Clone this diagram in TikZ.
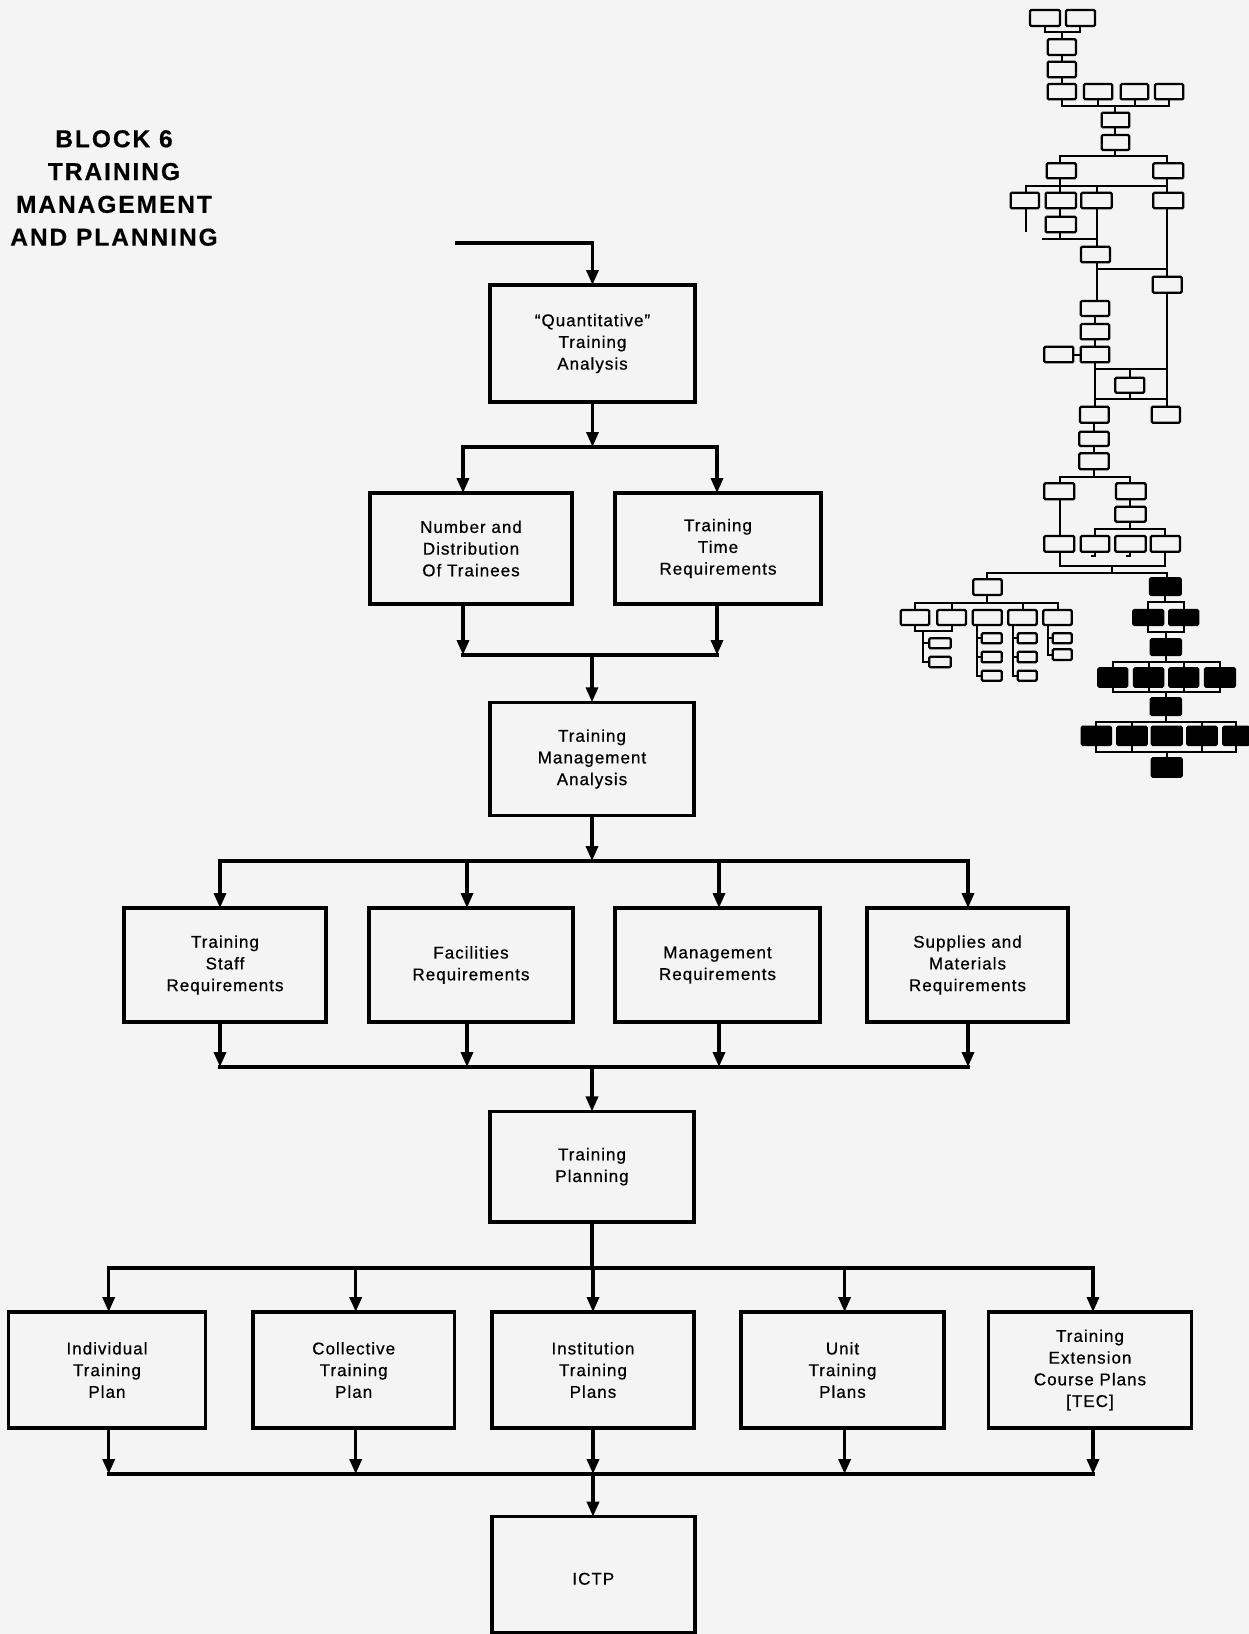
\documentclass[tikz,border=0pt]{standalone}
\usepackage{fontspec}
\setmainfont{Liberation Sans}
\newfontfamily\boxfont{Liberation Sans}[LetterSpace=6,FakeBold=0.6]
\newfontfamily\headfont{Liberation Sans}[LetterSpace=8,FakeBold=0.4]
\usetikzlibrary{arrows.meta}
\definecolor{paper}{gray}{0.955}
% small pictogram helpers: outlined and solid boxes, given by two corners
\newcommand{\obox}[4]{\draw[iconbox] (#1,#2) rectangle (#3,#4);}
\newcommand{\kbox}[4]{\draw[iconink] (#1,#2) rectangle (#3,#4);}
\begin{document}
\begin{tikzpicture}[x=1pt,y=-1pt,
  flow/.style={line width=3.4pt,line cap=rect,line join=miter},
  arr/.style={flow,-{Triangle[length=15pt,width=12pt]}},
  stage/.style={draw,line width=3.4pt,align=center,inner sep=0pt,outer sep=0pt,
    font=\boxfont\fontsize{17}{21.7}\selectfont},
  iconbox/.style={draw,line width=2.3pt,rounded corners=1.2pt},
  iconink/.style={fill=black,draw,line width=2.3pt,rounded corners=1.2pt},
  iconline/.style={line width=2pt}]

\useasboundingbox (0,0) rectangle (1249,1634);
\fill[paper] (0,0) rectangle (1249,1634);

% heading
\node[font=\headfont\bfseries\fontsize{24.5}{32.8}\selectfont,align=center]
  (heading) at (114,188) {BLOCK 6\\TRAINING\\MANAGEMENT\\AND PLANNING};

% ---------------- flow boxes ----------------
\node[stage,minimum width=205pt,minimum height=117pt] (quant) at (592.5,343.5)
  {“Quantitative”\\Training\\Analysis};
\node[stage,minimum width=202pt,minimum height=111pt] (count) at (471,548.5)
  {Number and\\Distribution\\Of Trainees};
\node[stage,minimum width=206pt,minimum height=111pt] (timereq) at (718,548.5)
  {Training\\Time\\Requirements};
\node[stage,minimum width=204pt,minimum height=113.5pt] (tma) at (592,759)
  {Training\\Management\\Analysis};

\node[stage,minimum width=202pt,minimum height=114pt] (staff) at (225,965)
  {Training\\Staff\\Requirements};
\node[stage,minimum width=204pt,minimum height=114pt] (facil) at (471,965)
  {Facilities\\Requirements};
\node[stage,minimum width=205pt,minimum height=114pt] (mgmt) at (717.5,965)
  {Management\\Requirements};
\node[stage,minimum width=201pt,minimum height=114pt] (supply) at (967.5,965)
  {Supplies and\\Materials\\Requirements};

\node[stage,minimum width=204pt,minimum height=110.5pt] (tplan) at (592,1166.7)
  {Training\\Planning};

\node[stage,minimum width=197pt,minimum height=116pt] (indiv) at (107,1370)
  {Individual\\Training\\Plan};
\node[stage,minimum width=201.5pt,minimum height=116pt] (collect) at (353.7,1370)
  {Collective\\Training\\Plan};
\node[stage,minimum width=202pt,minimum height=116pt] (instit) at (593,1370)
  {Institution\\Training\\Plans};
\node[stage,minimum width=203pt,minimum height=116pt] (unit) at (842.5,1370)
  {Unit\\Training\\Plans};
\node[stage,minimum width=202.6pt,minimum height=116pt] (tec) at (1090,1370)
  {Training\\Extension\\Course Plans\\{[}TEC{]}};

\node[stage,minimum width=203pt,minimum height=116pt,text depth=0pt]
  (ictp) at (593.3,1574.7) {\raisebox{-8pt}{ICTP}};

% ---------------- connectors ----------------
% entry into the quantitative analysis
\coordinate (entry) at (457,243);
\draw[arr] (entry) -| (quant.north);

% fan-out after the quantitative analysis
\coordinate (b1w) at (463,447);
\coordinate (b1e) at (717,447);
\draw[arr] (quant.south) -- (quant.south |- b1w);
\draw[flow] (b1w) -- (b1e);
\draw[arr] (b1w) -- (b1w |- count.north);
\draw[arr] (b1e) -- (b1e |- timereq.north);

% merge into the management analysis
\coordinate (b2w) at (463,655);
\coordinate (b2e) at (717,655);
\draw[arr] (b2w |- count.south) -- (b2w);
\draw[arr] (b2e |- timereq.south) -- (b2e);
\draw[flow] (b2w) -- (b2e);
\draw[arr] (tma.north |- b2w) -- (tma.north);

% fan-out to the four requirement boxes
\coordinate (b3a) at (220,861);
\coordinate (b3b) at (467,861);
\coordinate (b3c) at (719,861);
\coordinate (b3d) at (968,861);
\draw[arr] (tma.south) -- (tma.south |- b3a);
\draw[flow] (b3a) -- (b3d);
\draw[arr] (b3a) -- (b3a |- staff.north);
\draw[arr] (b3b) -- (b3b |- facil.north);
\draw[arr] (b3c) -- (b3c |- mgmt.north);
\draw[arr] (b3d) -- (b3d |- supply.north);

% merge into training planning
\coordinate (b4a) at (220,1067);
\coordinate (b4b) at (467,1067);
\coordinate (b4c) at (719,1067);
\coordinate (b4d) at (968,1067);
\draw[arr] (b4a |- staff.south) -- (b4a);
\draw[arr] (b4b |- facil.south) -- (b4b);
\draw[arr] (b4c |- mgmt.south) -- (b4c);
\draw[arr] (b4d |- supply.south) -- (b4d);
\draw[flow] (b4a) -- (b4d);
\draw[arr] (tplan.north |- b4a) -- (tplan.north);

% fan-out to the five plans
\coordinate (b5a) at (108.7,1268);
\coordinate (b5b) at (355.7,1268);
\coordinate (b5c) at (593,1268);
\coordinate (b5d) at (844.6,1268);
\coordinate (b5e) at (1093,1268);
\draw[flow] (tplan.south) -- (tplan.south |- b5a);
\draw[flow] (b5a) -- (b5e);
\draw[arr] (b5a) -- (b5a |- indiv.north);
\draw[arr] (b5b) -- (b5b |- collect.north);
\draw[arr] (b5c) -- (b5c |- instit.north);
\draw[arr] (b5d) -- (b5d |- unit.north);
\draw[arr] (b5e) -- (b5e |- tec.north);

% merge into the ICTP
\coordinate (b6a) at (108.7,1474);
\coordinate (b6b) at (355.7,1474);
\coordinate (b6c) at (593,1474);
\coordinate (b6d) at (844.6,1474);
\coordinate (b6e) at (1093,1474);
\draw[arr] (b6a |- indiv.south) -- (b6a);
\draw[arr] (b6b |- collect.south) -- (b6b);
\draw[arr] (b6c |- instit.south) -- (b6c);
\draw[arr] (b6d |- unit.south) -- (b6d);
\draw[arr] (b6e |- tec.south) -- (b6e);
\draw[flow] (b6a) -- (b6e);
\draw[arr] (b6c) -- (b6c |- ictp.north);

% ---------------- organisation pictogram ----------------
\begin{scope}[iconline]
% top pair and first chain
\obox{1030}{10}{1060}{26} \obox{1066}{10}{1095}{26}
\draw (1045,26) -- (1045,31.7) -- (1080,31.7) -- (1080,26);
\draw (1061.7,31.7) -- (1061.7,39.3);
\obox{1047.7}{39.3}{1076}{55}
\draw (1061.7,55) -- (1061.7,61.7);
\obox{1047.7}{61.7}{1076}{77.3}
\draw (1061.7,77.3) -- (1061.7,84);
\obox{1047.7}{84}{1076}{99.3} \obox{1084}{84}{1112.3}{99.3}
\obox{1120.7}{84}{1148.3}{99.3} \obox{1155}{84}{1183.3}{99.3}
\draw (1061.7,99.3) -- (1061.7,106) -- (1169,106) -- (1169,99.3);
\draw (1098,99.3) -- (1098,106) (1134.5,99.3) -- (1134.5,106);
\draw (1115,106) -- (1115,112.7);
\obox{1101.7}{112.7}{1129.3}{127.3}
\draw (1115,127.3) -- (1115,135);
\obox{1101.7}{135}{1129.3}{150}
\draw (1115,150) -- (1115,155.7);
\draw (1060,163.3) -- (1060,155.7) -- (1167.3,155.7) -- (1167.3,163.3);
\obox{1046.7}{163.3}{1076}{178.3} \obox{1153.3}{163.3}{1183.3}{178.3}
\draw (1060,178.3) -- (1060,192.7) (1167.3,178.3) -- (1167.3,192.7);
\draw (1025.7,192.7) -- (1025.7,186) -- (1167.3,186);
\draw (1096.7,186) -- (1096.7,192.7);
\obox{1010.7}{192.7}{1039}{208.3} \obox{1045.7}{192.7}{1076}{208.3}
\obox{1081.3}{192.7}{1111.7}{208.3} \obox{1153.3}{192.7}{1183.3}{208.3}
\draw (1025.7,208.3) -- (1025.7,232.3);
\draw (1060,208.3) -- (1060,216.7);
\obox{1045.7}{216.7}{1076}{232.3}
\draw (1060,232.3) -- (1060,239.3);
\draw (1042.3,239.3) -- (1096.7,239.3);
\draw (1096.7,208.3) -- (1096.7,246.7);
\obox{1081}{246.7}{1110}{262.3}
\draw (1096.7,262.3) -- (1096.7,301);
\draw (1096.7,269.3) -- (1167.3,269.3);
\draw (1167.3,208.3) -- (1167.3,276.7);
\obox{1152.7}{276.7}{1181.7}{292.7}
\draw (1167.3,292.7) -- (1167.3,406.7);
\obox{1080.7}{301}{1109.3}{316}
\draw (1095,316) -- (1095,324);
\obox{1080.7}{324}{1109.3}{339.3}
\draw (1095,339.3) -- (1095,346.7);
\obox{1080.7}{346.7}{1109.3}{362.3} \obox{1044.3}{346.7}{1073.3}{362.3}
\draw (1073.3,354.5) -- (1080.7,354.5);
\draw (1095,362.3) -- (1095,406.7);
\draw (1095,369.3) -- (1167.3,369.3) (1095,399.3) -- (1167.3,399.3);
\draw (1130,369.3) -- (1130,377.7) (1130,392.7) -- (1130,399.3);
\obox{1115.3}{377.7}{1144.3}{392.7}
\obox{1080}{406.7}{1108.7}{422.7} \obox{1151.7}{406.7}{1180}{422.7}
\draw (1094.3,422.7) -- (1094.3,431.7);
% second part of the chain
\obox{1079.3}{431.7}{1108.7}{446}
\draw (1094,446) -- (1094,453.3);
\obox{1079.3}{453.3}{1108.7}{469.3}
\draw (1094,469.3) -- (1094,476.7);
\draw (1060,483.3) -- (1060,476.7) -- (1130,476.7) -- (1130,483.3);
\obox{1044.3}{483.3}{1074.3}{499.3} \obox{1116}{483.3}{1145.7}{499.3}
\draw (1130,499.3) -- (1130,506.7);
\obox{1115.3}{506.7}{1145.7}{521.7}
\draw (1130,521.7) -- (1130,529.3);
\draw (1060,499.3) -- (1060,536);
\draw (1095,536) -- (1095,529.3) -- (1165,529.3) -- (1165,536);
\obox{1044.3}{536}{1074.3}{551.7} \obox{1080.7}{536}{1109.3}{551.7}
\obox{1115.3}{536}{1145.7}{551.7} \obox{1150.7}{536}{1180}{551.7}
\draw (1095,551.7) -- (1095,556) -- (1091,556) (1130,551.7) -- (1130,556) -- (1126,556);
\draw (1060,551.7) -- (1060,566) -- (1165,566) -- (1165,551.7);
\draw (1112.3,566) -- (1112.3,573.3);
\draw (987.3,579.3) -- (987.3,573.3) -- (1166.7,573.3) -- (1166.7,578.3);
% left branch
\obox{973.3}{579.3}{1001.7}{595}
\draw (987.3,595) -- (987.3,602.7);
\draw (915,610) -- (915,602.7) -- (1057.5,602.7) -- (1057.5,610);
\draw (951.7,602.7) -- (951.7,610) (1022.5,602.7) -- (1022.5,610);
\obox{900.7}{610}{929.3}{625} \obox{937.3}{610}{966}{625}
\obox{972.7}{610}{1001.7}{625} \obox{1008.3}{610}{1036.7}{625}
\obox{1043.3}{610}{1071.7}{625}
\draw (915,625) -- (915,631) -- (951.7,631) -- (951.7,625);
\draw (923.3,631) -- (923.3,662) -- (929.3,662) (923.3,643.3) -- (929.3,643.3);
\obox{929.3}{638.3}{950.7}{648.3} \obox{929.3}{656.7}{950.7}{667.3}
\draw (977,625) -- (977,675.7) -- (981.7,675.7)
      (977,638.3) -- (981.7,638.3) (977,657) -- (981.7,657);
\obox{981.7}{633.3}{1001.7}{643.3} \obox{981.7}{651.7}{1001.7}{662.3}
\obox{981.7}{670.7}{1001.7}{680.7}
\draw (1013,625) -- (1013,675.7) -- (1017.7,675.7)
      (1013,638.3) -- (1017.7,638.3) (1013,657) -- (1017.7,657);
\obox{1017.7}{633.3}{1036.7}{643.3} \obox{1017.7}{651.7}{1036.7}{662.3}
\obox{1017.7}{670.7}{1036.7}{680.7}
\draw (1048,625) -- (1048,654.7) -- (1052.7,654.7) (1048,638.3) -- (1052.7,638.3);
\obox{1052.7}{633.3}{1071.7}{643.3} \obox{1052.7}{649.3}{1071.7}{660}
% solid branch
\kbox{1150}{578.3}{1180.7}{595}
\draw (1165.3,595) -- (1165.3,601.7);
\draw (1148.3,610) -- (1148.3,601.7) -- (1183.8,601.7) -- (1183.8,610);
\kbox{1133.3}{610}{1163.3}{625} \kbox{1169.3}{610}{1198.3}{625}
\draw (1148.3,625) -- (1148.3,631.7) -- (1183.8,631.7) -- (1183.8,625);
\draw (1165.5,631.7) -- (1165.5,639.3);
\kbox{1150.7}{639.3}{1181}{655}
\draw (1165.5,655) -- (1165.5,661.7);
\draw (1112.8,668.3) -- (1112.8,661.7) -- (1220,661.7) -- (1220,668.3);
\draw (1148.7,661.7) -- (1148.7,668.3) (1183.8,661.7) -- (1183.8,668.3);
\kbox{1098.3}{668.3}{1127.3}{686.7} \kbox{1134}{668.3}{1163.3}{686.7}
\kbox{1169.3}{668.3}{1198.3}{686.7} \kbox{1205}{668.3}{1235}{686.7}
\draw (1112.8,686.7) -- (1112.8,692.3) -- (1220,692.3) -- (1220,686.7);
\draw (1148.7,686.7) -- (1148.7,692.3) (1183.8,686.7) -- (1183.8,692.3);
\draw (1165.5,692.3) -- (1165.5,698.3);
\kbox{1150.7}{698.3}{1181}{715}
\draw (1165.5,715) -- (1165.5,721.7);
\draw (1096.4,726.7) -- (1096.4,721.7) -- (1236.2,721.7) -- (1236.2,726.7);
\draw (1132,721.7) -- (1132,726.7) (1202,721.7) -- (1202,726.7);
\kbox{1081.7}{726.7}{1111}{745} \kbox{1117.3}{726.7}{1146.7}{745}
\kbox{1151.7}{726.7}{1181.7}{745} \kbox{1187.3}{726.7}{1216.7}{745}
\kbox{1223.3}{726.7}{1249}{745}
\draw (1096.4,745) -- (1096.4,751.7) -- (1236.2,751.7) -- (1236.2,745);
\draw (1132,745) -- (1132,751.7) (1202,745) -- (1202,751.7);
\draw (1166.7,751.7) -- (1166.7,758.3);
\kbox{1151.7}{758.3}{1181.7}{776.7}
\end{scope}

\end{tikzpicture}
\end{document}
